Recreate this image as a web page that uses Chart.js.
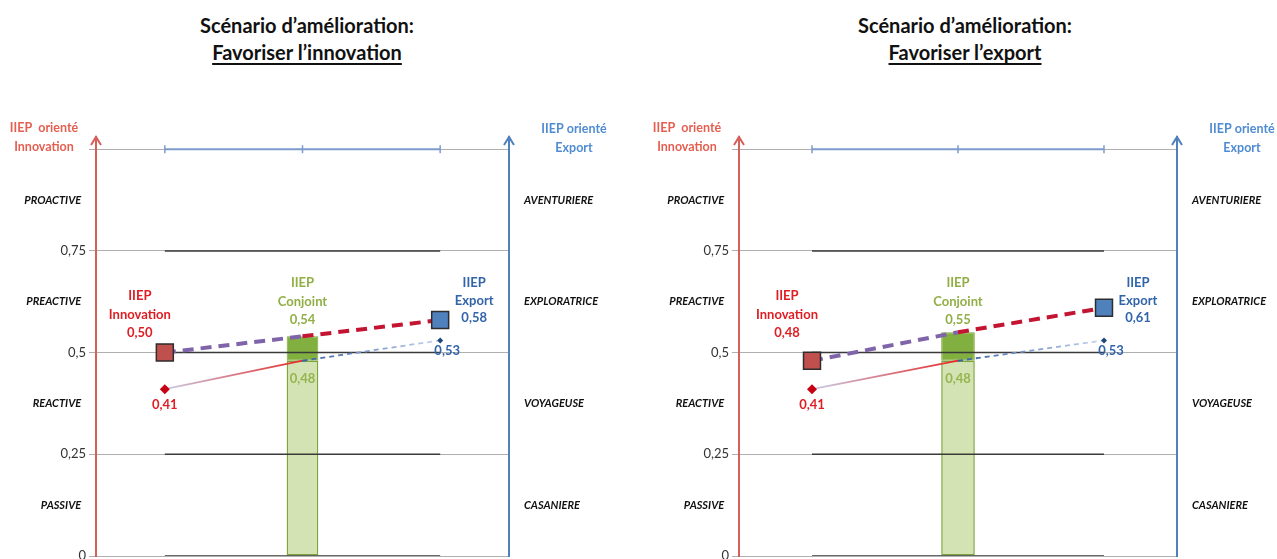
<!DOCTYPE html>
<html>
<head>
<meta charset="utf-8">
<script src="https://cdn.jsdelivr.net/npm/chart.js@4.4.0/dist/chart.umd.min.js"></script>
<style>
  html, body { margin: 0; padding: 0; background: #fff; width: 1277px; height: 559px; overflow: hidden; position: relative; }
  .title { position: absolute; top: 12px; text-align: center; font-family: Lato, 'Open Sans', sans-serif; font-weight: bold; font-size: 20px; line-height: 27px; color: #111; }
  .title u { text-underline-offset: 3px; }
  .panel { position: absolute; top: 100px; height: 480px; }
</style>
</head>
<body>
<div class="title" style="left:0;width:614px">Scénario d’amélioration:<br><u>Favoriser l’innovation</u></div>
<div class="title" style="left:653px;width:624px">Scénario d’amélioration:<br><u>Favoriser l’export</u></div>
<div class="panel" style="left:0;width:640px"><canvas id="chartInnov"></canvas></div>
<div class="panel" style="left:640px;width:637px"><canvas id="chartExport"></canvas></div>
<script>
// values
const categories = ['IIEP Innovation', 'IIEP Conjoint', 'IIEP Export'];
const actuel = [0.41, 0.48, 0.53];
const scenarioInnovation = [0.50, 0.54, 0.58];
const scenarioExport = [0.48, 0.55, 0.61];
const yTicks = [0, 0.125, 0.25, 0.375, 0.5, 0.625, 0.75, 0.875, 1];
const levels = [0, 0.25, 0.5, 0.75];
const topLevel = 1;
const profilsInnovation = ['PASSIVE', 'REACTIVE', 'PREACTIVE', 'PROACTIVE'];
const profilsExport = ['CASANIERE', 'VOYAGEUSE', 'EXPLORATRICE', 'AVENTURIERE'];

const RED = 'rgb(222,30,35)';
const GREEN = 'rgb(145,175,70)';
const BLUE = 'rgb(50,100,170)';
const FONT = "Lato, 'Open Sans', sans-serif";
const wordFont = { family: FONT, size: 11, style: 'italic', weight: 'bold' };
const numFont = { family: FONT, size: 13 };

function fmt(v) {
  return v.toFixed(2).replace('.', ',');
}

function tickLabel(i, profils) {
  if (i % 2) return profils[(i - 1) / 2] + '  ';
  const v = yTicks[i];
  if (v === topLevel) return '';
  return String(v).replace('.', ',');
}

const iiepPlugin = {
  id: 'iiep',
  afterDatasetsDraw(chart, args, opts) {
    const { ctx, chartArea, scales: { x, y } } = chart;
    const sc = opts.scenario;
    const base = y.getPixelForValue(0.5);
    const x0 = x.getPixelForValue(0), x1 = x.getPixelForValue(1), x2 = x.getPixelForValue(2);
    ctx.save();
    ctx.textAlign = 'center';
    ctx.textBaseline = 'middle';
    ctx.font = 'bold 13px ' + FONT;
    const block = (lines, cx, ys, color) => {
      ctx.fillStyle = color;
      lines.forEach((t, k) => ctx.fillText(t, cx, ys[k]));
    };
    block(['IIEP', 'Innovation', fmt(sc[0])], x0 - 25, [base - 57, base - 38, base - 20], RED);
    block(['IIEP', 'Conjoint', fmt(sc[1])], x1, [base - 70, base - 51, base - 33], GREEN);
    block(['IIEP', 'Export', fmt(sc[2])], x2 + 34, [base - 70, base - 52, base - 35], BLUE);

    ctx.fillStyle = RED;
    ctx.fillText(fmt(actuel[0]), x0, y.getPixelForValue(actuel[0]) + 16);
    ctx.fillStyle = 'rgb(150,180,80)';
    ctx.fillText(fmt(actuel[1]), x1, y.getPixelForValue(actuel[1]) + 18);
    ctx.fillStyle = BLUE;
    ctx.fillText(fmt(actuel[2]), x2 + 7, y.getPixelForValue(actuel[2]) + 10);

    // axis titles
    ctx.font = 'bold 12.5px ' + FONT;
    ctx.fillStyle = 'rgb(228,95,80)';
    ctx.fillText('IIEP  orienté', chartArea.left - 52, chartArea.top - 9);
    ctx.fillText('Innovation', chartArea.left - 52, chartArea.top + 10);
    ctx.fillStyle = 'rgb(80,140,210)';
    ctx.fillText('IIEP orienté', chartArea.right + 65, chartArea.top - 8);
    ctx.fillText('Export', chartArea.right + 65, chartArea.top + 11);
    ctx.restore();
  },
  afterDraw(chart) {
    const { ctx, chartArea } = chart;
    ctx.save();
    ctx.lineWidth = 2;
    const arrow = (xa, color) => {
      ctx.strokeStyle = color;
      ctx.beginPath();
      ctx.moveTo(xa - 5, chartArea.top + 8);
      ctx.lineTo(xa, chartArea.top);
      ctx.lineTo(xa + 5, chartArea.top + 8);
      ctx.stroke();
    };
    arrow(chartArea.left, 'rgb(215,95,90)');
    arrow(chartArea.right, 'rgb(79,129,189)');
    ctx.restore();
  }
};

function thinGradient(c) {
  const chart = c.chart;
  if (!chart.chartArea) return 'rgb(200,60,60)';
  const xs = chart.scales.x;
  const a = xs.getPixelForValue(0), b = xs.getPixelForValue(2);
  const g = chart.ctx.createLinearGradient(a, 0, b, 0);
  g.addColorStop(0, 'rgb(200,205,230)');
  g.addColorStop(0.5, 'rgb(232,40,40)');
  g.addColorStop(0.5, 'rgb(55,95,165)');
  g.addColorStop(1, 'rgb(200,215,240)');
  return g;
}

function buildChart(id, scenario, box) {
  const ctx = document.getElementById(id);
  const datasets = [];

  levels.forEach(l => datasets.push({
    type: 'line', data: categories.map(() => l), yAxisID: 'y',
    borderColor: '#3a3a3a', borderWidth: 1.5, pointRadius: 0, order: 3
  }));
  datasets.push({
    type: 'line', data: categories.map(() => topLevel), yAxisID: 'y',
    borderColor: 'rgb(125,155,205)', borderWidth: 2,
    pointStyle: 'line', rotation: 90, pointRadius: 4,
    pointBorderColor: 'rgb(125,155,205)', pointBorderWidth: 1.5, order: 3
  });
  datasets.push({
    type: 'bar', data: [null, [0, actuel[1]], null], yAxisID: 'y',
    backgroundColor: 'rgba(200,220,160,0.8)', borderColor: 'rgb(125,165,60)',
    borderWidth: 1.5, borderSkipped: false, grouped: false,
    barPercentage: 0.23, categoryPercentage: 1, order: 4
  });
  datasets.push({
    type: 'bar', data: [null, [actuel[1], scenario[1]], null], yAxisID: 'y',
    backgroundColor: 'rgb(130,176,64)', borderColor: 'rgb(125,165,60)',
    borderWidth: 1, borderSkipped: false, grouped: false,
    barPercentage: 0.23, categoryPercentage: 1, order: 4
  });
  datasets.push({
    type: 'line', data: actuel, yAxisID: 'y',
    borderColor: thinGradient, borderWidth: 1.8,
    segment: { borderDash: c => c.p0DataIndex === 1 ? [5, 4] : undefined },
    pointStyle: 'rectRot', pointRadius: [5, 0, 3],
    pointBackgroundColor: ['rgb(200,0,20)', 'rgba(0,0,0,0)', 'rgb(30,70,120)'],
    pointBorderColor: 'rgba(0,0,0,0)', pointBorderWidth: 0, order: 2
  });
  datasets.push({
    type: 'line', data: scenario, yAxisID: 'y',
    borderWidth: 4, borderDash: [11, 7],
    segment: { borderColor: c => c.p0DataIndex === 0 ? 'rgb(128,100,170)' : 'rgb(195,20,50)' },
    pointStyle: 'rect', pointRadius: [12, 0, 12],
    pointBackgroundColor: ['rgb(192,80,77)', 'rgba(0,0,0,0)', 'rgb(79,129,189)'],
    pointBorderColor: 'rgb(45,45,45)', pointBorderWidth: 1.5, order: 1
  });

  const setTicks = s => { s.ticks = yTicks.map(v => ({ value: v })); };

  return new Chart(ctx, {
    type: 'bar',
    data: { labels: categories, datasets },
    options: {
      responsive: true,
      maintainAspectRatio: false,
      animation: false,
      events: [],
      layout: { padding: { top: 37, bottom: 24, left: 0, right: 0 } },
      plugins: {
        legend: { display: false },
        tooltip: { enabled: false },
        iiep: { scenario }
      },
      scales: {
        x: { type: 'category', display: false, offset: true },
        y: {
          min: 0, max: 1.03,
          afterBuildTicks: setTicks,
          afterFit: s => { s.width = box.left; },
          ticks: {
            autoSkip: false, padding: 3,
            callback: (v, i) => tickLabel(i, profilsInnovation),
            font: c => c.index % 2 ? wordFont : numFont,
            color: c => c.index % 2 ? '#111' : '#333'
          },
          grid: {
            color: c => c.index % 2 ? 'rgba(0,0,0,0)' : 'rgb(175,175,175)',
            lineWidth: 1, tickLength: 7
          },
          border: { color: 'rgb(215,95,90)', width: 2 }
        },
        y2: {
          position: 'right', min: 0, max: 1.03,
          afterBuildTicks: setTicks,
          afterFit: s => { s.width = box.right; },
          ticks: {
            autoSkip: false, padding: 15,
            callback: (v, i) => i % 2 ? profilsExport[(i - 1) / 2] : '',
            font: wordFont, color: '#111'
          },
          grid: { display: false, drawTicks: false },
          border: { color: 'rgb(79,129,189)', width: 2 }
        }
      }
    },
    plugins: [iiepPlugin]
  });
}

buildChart('chartInnov', scenarioInnovation, { left: 96, right: 131 });
buildChart('chartExport', scenarioExport, { left: 99, right: 100 });
</script>
</body>
</html>
